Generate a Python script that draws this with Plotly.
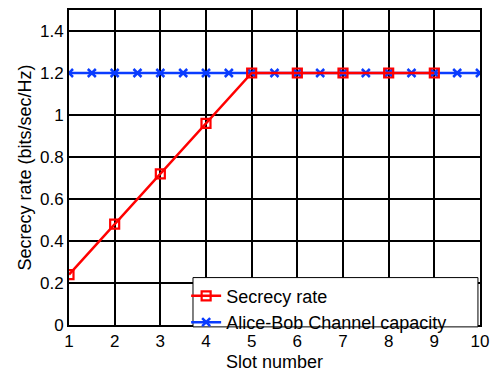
import plotly.graph_objects as go

slots_secrecy = [1, 2, 3, 4, 5, 6, 7, 8, 9]
secrecy_rate = [0.24, 0.48, 0.72, 0.96, 1.2, 1.2, 1.2, 1.2, 1.2]
slots_capacity = [1, 1.5, 2, 2.5, 3, 3.5, 4, 4.5, 5, 5.5, 6, 6.5, 7, 7.5, 8, 8.5, 9, 9.5, 10]
capacity = [1.2] * len(slots_capacity)
x_ticks = [1, 2, 3, 4, 5, 6, 7, 8, 9, 10]
y_ticks = [0, 0.2, 0.4, 0.6, 0.8, 1.0, 1.2, 1.4]
y_tick_labels = ["0", "0.2", "0.4", "0.6", "0.8", "1", "1.2", "1.4"]

fig = go.Figure()
fig.add_trace(go.Scatter(
    x=slots_capacity, y=capacity, mode="lines+markers", name="Alice-Bob Channel capacity",
    line=dict(color="#0a3cff", width=2.5),
    marker=dict(symbol="x-thin", size=8, line=dict(color="#0a3cff", width=2.5)),
))
fig.add_trace(go.Scatter(
    x=slots_secrecy, y=secrecy_rate, mode="lines+markers", name="Secrecy rate",
    line=dict(color="#ff0000", width=2.5),
    marker=dict(symbol="square-open", size=9, color="#ff0000", line=dict(color="#ff0000", width=2.2)),
))

# legend frame (white box with black border) drawn over the plot area
fig.add_shape(type="rect", xref="paper", yref="paper",
              x0=0.3017, x1=0.995, y0=-0.006, y1=0.1505,
              fillcolor="white", line=dict(color="black", width=1), layer="above")

font = "Liberation Sans, Arial, sans-serif"
fig.update_layout(
    width=500, height=377,
    margin=dict(l=69, r=20, t=8, b=50),
    paper_bgcolor="white", plot_bgcolor="white",
    font=dict(family=font, size=18, color="black"),
    showlegend=True,
    legend=dict(
        x=0.285, y=0.1505, xanchor="left", yanchor="top",
        bgcolor="rgba(0,0,0,0)", borderwidth=0,
        font=dict(family=font, size=18, color="black"),
        traceorder="reversed",
        itemwidth=30, tracegroupgap=0,
    ),
    xaxis=dict(
        range=[1, 10], tickvals=x_ticks, showgrid=True, gridcolor="black", gridwidth=2,
        showline=True, linecolor="black", linewidth=2, mirror=True, zeroline=False,
        ticks="", title=dict(text="Slot number", standoff=5, font=dict(size=18)),
        tickfont=dict(size=17),
    ),
    yaxis=dict(
        range=[0, 1.5], tickvals=y_ticks, ticktext=y_tick_labels, showgrid=True,
        gridcolor="black", gridwidth=2,
        showline=True, linecolor="black", linewidth=2, mirror=True, zeroline=False,
        ticks="", title=dict(text="Secrecy rate (bits/sec/Hz)", standoff=4, font=dict(size=18)),
        tickfont=dict(size=17),
    ),
)
fig.write_html("out.html", config={"displayModeBar": False},
               post_script="document.body.style.margin='0';")
